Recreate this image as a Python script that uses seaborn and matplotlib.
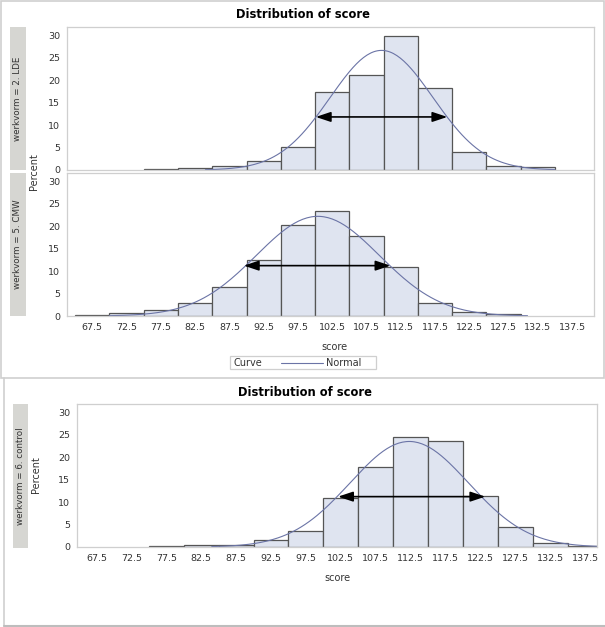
import numpy as np
import pandas as pd
import matplotlib
matplotlib.use("Agg")
import matplotlib.pyplot as plt
from matplotlib.patches import Rectangle
from matplotlib.lines import Line2D
import seaborn as sns

# Bins of 5 points, 65 .. 140
bin_edges = [65, 70, 75, 80, 85, 90, 95, 100, 105, 110, 115, 120, 125, 130, 135, 140]

# Percent per bin
pct_lde = [0, 0, 0.2, 0.45, 0.8, 1.9, 5.2, 17.3, 21.1, 29.8, 18.2, 4.0, 0.9, 0.7, 0]
pct_cmw = [0.2, 0.7, 1.3, 3.0, 6.4, 12.4, 20.2, 23.3, 17.9, 10.9, 2.8, 1.0, 0.4, 0, 0]
pct_control = [0, 0, 0.2, 0.5, 0.4, 1.6, 3.5, 10.9, 17.7, 24.4, 23.5, 11.3, 4.4, 1.0, 0.3]

# fitted normal curves (mean, sd, range drawn)
norm_mean = [109.7, 100.4, 112.3]
norm_sd = [7.5, 9.0, 8.5]
norm_from = [84, 70, 84]
norm_to = [135, 131, 139.5]

# arrows drawn on top (left score, right score, percent)
arrow_lo = [100.1, 89.6, 102.1]
arrow_hi = [119.3, 111.0, 123.2]
arrow_y = [11.8, 11.2, 11.2]

group_labels = ["werkvorm = 2. LDE", "werkvorm = 5. CMW", "werkvorm = 6. control"]
x_ticks = [67.5, 72.5, 77.5, 82.5, 87.5, 92.5, 97.5, 102.5, 107.5, 112.5, 117.5, 122.5, 127.5, 132.5, 137.5]
y_ticks = [0, 5, 10, 15, 20, 25, 30]

sns.set_style("white")
plt.rcParams['font.family'] = ['DejaVu Sans']

W, H = 605, 627
fig = plt.figure(figsize=(W / 100, H / 100), dpi=100)
fig.patch.set_facecolor("white")

fill_c = "#dfe4f0"
edge_c = "#555555"
curve_c = "#6b74a6"
frame_c = "#cfcfcf"
strip_c = "#d6d6d2"
text_c = "#333333"


def px_axes(x0, y0, x1, y1):
    return fig.add_axes([x0 / W, 1 - y1 / H, (x1 - x0) / W, (y1 - y0) / H])


def fig_xy(x, y):
    return x / W, 1 - y / H


centers = [(a + b) / 2 for a, b in zip(bin_edges[:-1], bin_edges[1:])]


def draw_panel(ax, pct, i, xlim, show_x):
    df = pd.DataFrame({"score": centers, "pct": pct})
    sns.histplot(data=df, x="score", weights="pct", bins=bin_edges, ax=ax,
                 color=fill_c, edgecolor=edge_c, linewidth=0.9, alpha=1)
    for p in ax.patches:
        if p.get_height() <= 0:
            p.set_visible(False)
    xs = np.linspace(norm_from[i], norm_to[i], 200)
    ys = 100 * 5 * np.exp(-0.5 * ((xs - norm_mean[i]) / norm_sd[i]) ** 2) / (norm_sd[i] * np.sqrt(2 * np.pi))
    sns.lineplot(x=xs, y=ys, ax=ax, color=curve_c, linewidth=0.8)
    ax.annotate("", xy=(arrow_lo[i], arrow_y[i]), xytext=(arrow_hi[i], arrow_y[i]),
                arrowprops=dict(arrowstyle="<|-|>,head_length=0.9,head_width=0.3",
                                color="black", lw=1.2, shrinkA=0, shrinkB=0))
    ax.set_xlim(*xlim)
    ax.set_ylim(0, 31.8)
    ax.set_yticks(y_ticks)
    ax.set_xlabel("")
    ax.set_ylabel("")
    if show_x:
        ax.set_xticks(x_ticks)
        ax.set_xticklabels([str(t) for t in x_ticks])
    else:
        ax.set_xticks([])
    ax.tick_params(axis="both", direction="out", length=3, width=0.6, color="#999999",
                   labelsize=6.8, labelcolor=text_c, pad=2)
    for s in ax.spines.values():
        s.set_color(frame_c)
        s.set_linewidth(0.9)


def strip(x0, y0, x1, y1, label):
    sax = px_axes(x0, y0, x1, y1)
    sax.set_facecolor(strip_c)
    sax.set_xticks([])
    sax.set_yticks([])
    for s in sax.spines.values():
        s.set_visible(False)
    sax.text(0.5, 0.5, label, rotation=90, ha="center", va="center",
             fontsize=6.3, color=text_c, transform=sax.transAxes)


# frames around the two outputs
fig.patches.append(Rectangle(fig_xy(1, 378), 603 / W, 377 / H, transform=fig.transFigure,
                             fill=False, edgecolor=frame_c, linewidth=1.2))
fig.add_artist(Line2D([4 / W, 4 / W], [1 - 378 / H, 1 - 626 / H], color=frame_c, lw=1.2))
fig.add_artist(Line2D([4 / W, 1], [1 - 626 / H, 1 - 626 / H], color="#bdbdbd", lw=1.5))

# upper output
ax1 = px_axes(67, 27, 594, 170)
draw_panel(ax1, pct_lde, 0, (63.8, 140.7), False)
ax2 = px_axes(67, 173, 594, 316)
draw_panel(ax2, pct_cmw, 1, (63.8, 140.7), True)
strip(10, 27, 26, 170, group_labels[0])
strip(10, 173, 26, 316, group_labels[1])

fig.text(*fig_xy(303, 15), "Distribution of score", ha="center", va="center",
         fontsize=8.3, fontweight="bold", color="black")
fig.text(*fig_xy(34, 172), "Percent", rotation=90, ha="center", va="center",
         fontsize=7, color=text_c)
fig.text(*fig_xy(334, 347), "score", ha="center", va="center", fontsize=7, color=text_c)

# legend box
fig.patches.append(Rectangle(fig_xy(230, 369), 146 / W, 13 / H, transform=fig.transFigure,
                             fill=False, edgecolor=frame_c, linewidth=0.9))
fig.text(*fig_xy(234, 363), "Curve", ha="left", va="center", fontsize=7, color=text_c)
fig.add_artist(Line2D([281 / W, 323 / W], [1 - 363 / H, 1 - 363 / H], color=curve_c, lw=0.8))
fig.text(*fig_xy(326, 363), "Normal", ha="left", va="center", fontsize=7, color=text_c)

# lower output
ax3 = px_axes(77, 404, 597, 547)
draw_panel(ax3, pct_control, 2, (64.7, 139.2), True)
strip(13, 404, 28, 548, group_labels[2])
fig.text(*fig_xy(305, 393), "Distribution of score", ha="center", va="center",
         fontsize=8.3, fontweight="bold", color="black")
fig.text(*fig_xy(36, 475), "Percent", rotation=90, ha="center", va="center",
         fontsize=7, color=text_c)
fig.text(*fig_xy(337, 578), "score", ha="center", va="center", fontsize=7, color=text_c)

fig.savefig("out.png", dpi=100)
